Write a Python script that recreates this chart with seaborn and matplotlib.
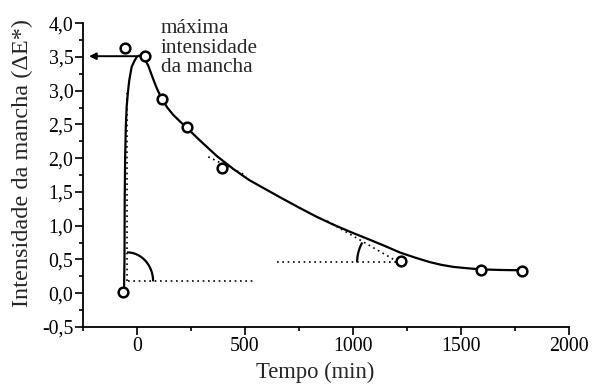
import matplotlib
matplotlib.use("Agg")
import matplotlib.pyplot as plt
import matplotlib.ticker as mticker
import numpy as np
import seaborn as sns
import pandas as pd

# measured points (open circles)
pts_x = [-66, -56, 37, 117, 233, 392, 1223, 1592, 1782]
pts_y = [0.02, 3.635, 3.51, 2.87, 2.46, 1.86, 0.477, 0.35, 0.33]

# fitted curve
curve_x = [-60, -58, -57, -55, -52, -48, -42, -36, -25, -12, -1, 11, 22, 32, 42,
           52, 60, 75, 91, 104, 117, 140, 168, 200, 230, 292, 370, 446, 520,
           601, 680, 755, 830, 910, 990, 1064, 1140, 1220, 1290, 1357, 1410,
           1465, 1530, 1590, 1680, 1775]
curve_y = [0.08, 0.5, 1.375, 2.0, 2.45, 2.76, 2.98, 3.15, 3.35, 3.44, 3.50, 3.52,
           3.51, 3.48, 3.43, 3.37, 3.30, 3.17, 3.04, 2.95, 2.87, 2.75, 2.64,
           2.54, 2.45, 2.26, 2.03, 1.84, 1.675, 1.53, 1.39, 1.26, 1.135, 1.015,
           0.905, 0.81, 0.71, 0.60, 0.525, 0.46, 0.42, 0.39, 0.37, 0.354, 0.345,
           0.34]

x_ticks = [0, 500, 1000, 1500, 2000]
y_ticks = [-0.5, 0.0, 0.5, 1.0, 1.5, 2.0, 2.5, 3.0, 3.5, 4.0]
note_lines = ["máxima", "intensidade", "da mancha"]

sns.set_style("ticks")
plt.rcParams["font.family"] = ["Liberation Serif", "DejaVu Serif"]

fig = plt.figure(figsize=(5.93, 3.85), dpi=100)
ax = fig.add_axes([0.14, 0.1506, 0.8195, 0.7894])

curve = pd.DataFrame({"x": curve_x, "y": curve_y})
pts = pd.DataFrame({"x": pts_x, "y": pts_y})

sns.lineplot(data=curve, x="x", y="y", sort=False, color="black", lw=1.6,
             ax=ax, zorder=3)
ax.plot(pts["x"], pts["y"], "o", ms=7, mfc="white", mec="black", mew=1.8,
        zorder=4)

dot = dict(color="black", lw=1.2, ls=(0, (1, 2.2)), zorder=2)
# reference lines
ax.plot([-47, -47], [0.18, 2.96], **dot)
ax.plot([-42, 546], [0.176, 0.176], **dot)
ax.plot([330, 508], [2.02, 1.74], **dot)
ax.plot([648, 1209], [0.457, 0.457], **dot)
ax.plot([880, 1210], [1.07, 0.46], **dot)

# angle arcs (radii given in pixels, converted to data units)
SX, SY = 0.21585, 67.56
def arc(cx, cy, rx_px, ry_px, t1, t2):
    t = np.radians(np.linspace(t1, t2, 40))
    ax.plot(cx + rx_px / SX * np.cos(t), cy + ry_px / SY * np.sin(t),
            color="black", lw=1.6, zorder=3, solid_capstyle="butt")
arc(-46, 0.176, 26, 29, 0, 90)
arc(1209, 0.457, 41, 41, 151, 180)

ax.annotate("", xy=(-222, 3.51), xytext=(0, 3.51),
            arrowprops=dict(arrowstyle="-|>", color="black", lw=1.4,
                            mutation_scale=10, shrinkA=0, shrinkB=0))
for txt, yy in zip(note_lines, [3.847, 3.560, 3.279]):
    ax.text(111, yy, txt, fontsize=15.3, va="baseline", ha="left")

ax.set_xlim(-250, 2000)
ax.set_ylim(-0.5, 4.0)
ax.set_xticks(x_ticks)
ax.set_yticks(y_ticks)
ax.xaxis.set_minor_locator(mticker.MultipleLocator(250))
ax.yaxis.set_minor_locator(mticker.MultipleLocator(0.25))
ax.yaxis.set_major_formatter(mticker.FuncFormatter(
    lambda v, p: f"{v:.1f}".replace(".", ",")))
ax.tick_params(which="major", direction="out", length=5.5, width=1.2,
               labelsize=14.3, color="black", labelcolor="black", pad=1.5)
ax.tick_params(which="minor", direction="out", length=3, width=1.2,
               color="black")
for s in ["top", "right"]:
    ax.spines[s].set_visible(False)
for s in ["left", "bottom"]:
    ax.spines[s].set_linewidth(1.3)
    ax.spines[s].set_color("black")

ax.set_xlabel("Tempo (min)", fontsize=16.3)
ax.set_ylabel("Intensidade da mancha (ΔE*)", fontsize=17.5)
ax.xaxis.set_label_coords(0.477, -0.113)
ax.yaxis.set_label_coords(-0.103, 0.54)

fig.savefig("out.png", dpi=100)
